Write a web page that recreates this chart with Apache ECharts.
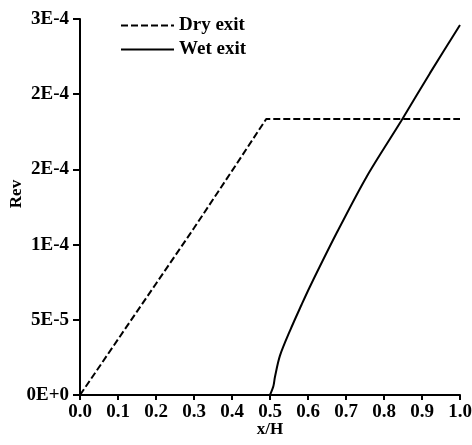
<!DOCTYPE html>
<html>
<head>
<meta charset="utf-8">
<script src="https://cdn.jsdelivr.net/npm/echarts@6/dist/echarts.min.js"></script>
<style>
  html, body { margin: 0; padding: 0; background: #fff; }
  #chart { width: 472px; height: 445px; }
</style>
</head>
<body>
<div id="chart"></div>
<script>
// Dry exit: linear rise then constant plateau
const dryX = [0, 0.1, 0.2, 0.3, 0.4, 0.49, 1.0];
const dryY = [0, 3.7e-5, 7.4e-5, 1.11e-4, 1.49e-4, 1.835e-4, 1.835e-4];

// Wet exit: starts near x/H = 0.5 and rises to the outlet
const wetX = [0.5, 0.509, 0.513, 0.526, 0.553, 0.583, 0.605, 0.675, 0.754, 0.846, 0.921, 1.0];
const wetY = [0, 6e-6, 1.2e-5, 2.6e-5, 4.3e-5, 6.0e-5, 7.2e-5, 1.075e-4, 1.45e-4, 1.825e-4, 2.14e-4, 2.46e-4];

const seriesNames = ['Dry exit', 'Wet exit'];
const yTickLabels = ['0E+0', '5E-5', '1E-4', '2E-4', '2E-4', '3E-4'];
const xTickStep = 0.1;
const yTickStep = 5e-5;
const yMax = 2.5e-4;

const pairs = (xs, ys) => xs.map((x, i) => [x, ys[i]]);
const serif = '"Liberation Serif", "Times New Roman", serif';

const chart = echarts.init(document.getElementById('chart'));
chart.setOption({
  animation: false,
  backgroundColor: '#fff',
  grid: { left: 80, right: 12, top: 19, bottom: 50, outerBoundsMode: 'none' },
  legend: {
    orient: 'vertical',
    left: 115,
    top: 11,
    itemWidth: 53,
    itemHeight: 14,
    itemGap: 5,
    data: seriesNames,
    itemStyle: { opacity: 0 },
    textStyle: { fontFamily: serif, fontSize: 19, fontWeight: 'bold', color: '#000' }
  },
  xAxis: {
    type: 'value',
    min: 0,
    max: 1,
    interval: xTickStep,
    name: 'x/H',
    nameLocation: 'middle',
    nameGap: 26,
    nameMoveOverlap: false,
    nameTextStyle: { fontFamily: serif, fontSize: 17, fontWeight: 'bold', color: '#000' },
    axisLine: { lineStyle: { color: '#000', width: 2 } },
    axisTick: { length: 5, lineStyle: { color: '#000', width: 2 } },
    axisLabel: {
      color: '#000', fontFamily: serif, fontSize: 19, fontWeight: 'bold', margin: 8,
      formatter: v => v.toFixed(1)
    },
    splitLine: { show: false }
  },
  yAxis: {
    type: 'value',
    min: 0,
    max: yMax,
    interval: yTickStep,
    name: 'Rev',
    nameLocation: 'middle',
    nameGap: 55,
    nameMoveOverlap: false,
    nameTextStyle: { fontFamily: serif, fontSize: 17, fontWeight: 'bold', color: '#000', padding: [0, 0, 0, 26] },
    axisLine: { show: true, lineStyle: { color: '#000', width: 2 } },
    axisTick: { show: true, length: 7, lineStyle: { color: '#000', width: 2 } },
    axisLabel: {
      color: '#000', fontFamily: serif, fontSize: 19, fontWeight: 'bold', margin: 11,
      formatter: v => yTickLabels[Math.round(v / yTickStep)]
    },
    splitLine: { show: false }
  },
  series: [
    {
      name: seriesNames[0],
      type: 'line',
      data: pairs(dryX, dryY),
      symbol: 'none',
      color: '#000',
      lineStyle: { color: '#000', width: 2, type: [7, 3] }
    },
    {
      name: seriesNames[1],
      type: 'line',
      data: pairs(wetX, wetY),
      symbol: 'none',
      smooth: 0.3,
      color: '#000',
      lineStyle: { color: '#000', width: 2 }
    }
  ]
});
</script>
</body>
</html>
